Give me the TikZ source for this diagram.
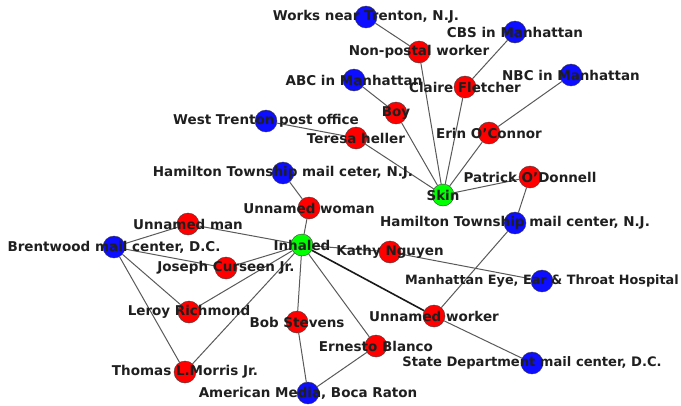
\documentclass[tikz,border=0pt]{standalone}
\usepackage{fontspec}
\setsansfont{DejaVu Sans}
\usetikzlibrary{backgrounds}

\begin{document}
\begin{tikzpicture}[x=1pt,y=-1pt]
\tikzstyle{size}=[circle,minimum size=22pt,inner sep=0pt,draw=black!75,thin]
\tikzstyle{person}=[size,fill=red]
\tikzstyle{place}=[size,fill=blue!95!white]
\tikzstyle{route}=[size,fill=green]
\tikzstyle{nametext}=[font=\sffamily\bfseries\fontsize{13.5}{15}\selectfont,text=black!88,inner sep=0pt]
\tikzstyle{link}=[draw=black!65,line width=1pt]

\useasboundingbox (0,0) rectangle (681,405);

% exposure routes
\node [route] at (443,195) (skin) {};
\node [route] at (302,245) (inhaled) {};

% people
\node [person] at (419,52) (nonpostal) {};
\node [person] at (465,87) (claire) {};
\node [person] at (396,113) (boy) {};
\node [person] at (356,138) (teresa) {};
\node [person] at (489,133) (erin) {};
\node [person] at (530,177) (patrick) {};
\node [person] at (309,208) (uwoman) {};
\node [person] at (188,224) (uman) {};
\node [person] at (226,268) (joseph) {};
\node [person] at (189,312) (leroy) {};
\node [person] at (185,372) (thomas) {};
\node [person] at (390,252) (kathy) {};
\node [person] at (434,316) (uworker) {};
\node [person] at (297,322) (bob) {};
\node [person] at (376,346) (ernesto) {};

% places
\node [place] at (366,17) (works) {};
\node [place] at (515,32) (cbs) {};
\node [place] at (571,75) (nbc) {};
\node [place] at (354,80) (abc) {};
\node [place] at (266,121) (westtrenton) {};
\node [place] at (283,173) (hamiltonw) {};
\node [place] at (114,247) (brentwood) {};
\node [place] at (515,223) (hamiltone) {};
\node [place] at (542,281) (meeth) {};
\node [place] at (532,363) (statedept) {};
\node [place] at (308,393) (amedia) {};

\begin{scope}[on background layer]
\draw [link] (works) -- (nonpostal);
\draw [link] (nonpostal) -- (skin);
\draw [link] (cbs) -- (claire);
\draw [link] (claire) -- (skin);
\draw [link] (nbc) -- (erin);
\draw [link] (erin) -- (skin);
\draw [link] (abc) -- (boy);
\draw [link] (boy) -- (skin);
\draw [link] (westtrenton) -- (teresa);
\draw [link] (teresa) -- (skin);
\draw [link] (patrick) -- (skin);
\draw [link] (patrick) -- (hamiltone);
\draw [link] (hamiltone) -- (uworker);
\draw [link] (uworker) -- (statedept);
\draw [link,draw=black!90,line width=1.6pt] (inhaled) -- (uworker);
\draw [link] (inhaled) -- (kathy);
\draw [link] (kathy) -- (meeth);
\draw [link] (inhaled) -- (uwoman);
\draw [link] (uwoman) -- (hamiltonw);
\draw [link] (inhaled) -- (bob);
\draw [link] (bob) -- (amedia);
\draw [link] (inhaled) -- (ernesto);
\draw [link] (ernesto) -- (amedia);
\draw [link] (inhaled) -- (uman);
\draw [link] (inhaled) -- (joseph);
\draw [link] (inhaled) -- (leroy);
\draw [link] (inhaled) -- (thomas);
\draw [link] (brentwood) -- (uman);
\draw [link] (brentwood) -- (joseph);
\draw [link] (brentwood) -- (leroy);
\draw [link] (brentwood) -- (thomas);
\end{scope}

% names on top
\node [nametext] at (skin) (skin-t) {Skin};
\node [nametext] at (inhaled) (inhaled-t) {Inhaled};
\node [nametext] at (nonpostal) (nonpostal-t) {Non-postal worker};
\node [nametext] at (claire) (claire-t) {Claire Fletcher};
\node [nametext] at (boy) (boy-t) {Boy};
\node [nametext] at (teresa) (teresa-t) {Teresa heller};
\node [nametext] at (erin) (erin-t) {Erin O'Connor};
\node [nametext] at (patrick) (patrick-t) {Patrick O'Donnell};
\node [nametext] at (uwoman) (uwoman-t) {Unnamed woman};
\node [nametext] at (uman) (uman-t) {Unnamed man};
\node [nametext] at (joseph) (joseph-t) {Joseph Curseen Jr.};
\node [nametext] at (leroy) (leroy-t) {Leroy Richmond};
\node [nametext] at (thomas) (thomas-t) {Thomas L.Morris Jr.};
\node [nametext] at (kathy) (kathy-t) {Kathy Nguyen};
\node [nametext] at (uworker) (uworker-t) {Unnamed worker};
\node [nametext] at (bob) (bob-t) {Bob Stevens};
\node [nametext] at (ernesto) (ernesto-t) {Ernesto Blanco};
\node [nametext] at (works) (works-t) {Works near Trenton, N.J.};
\node [nametext] at (cbs) (cbs-t) {CBS in Manhattan};
\node [nametext] at (nbc) (nbc-t) {NBC in Manhattan};
\node [nametext] at (abc) (abc-t) {ABC in Manhattan};
\node [nametext] at (westtrenton) (westtrenton-t) {West Trenton post office};
\node [nametext] at (hamiltonw) (hamiltonw-t) {Hamilton Township mail ceter, N.J.};
\node [nametext] at (brentwood) (brentwood-t) {Brentwood mail center, D.C.};
\node [nametext] at (hamiltone) (hamiltone-t) {Hamilton Township mail center, N.J.};
\node [nametext,font=\sffamily\bfseries\fontsize{12.8}{15}\selectfont] at (meeth) (meeth-t) {Manhattan Eye, Ear \& Throat Hospital};
\node [nametext,font=\sffamily\bfseries\fontsize{13.1}{15}\selectfont] at (statedept) (statedept-t) {State Department mail center, D.C.};
\node [nametext] at (amedia) (amedia-t) {American Media, Boca Raton};
\end{tikzpicture}
\end{document}
